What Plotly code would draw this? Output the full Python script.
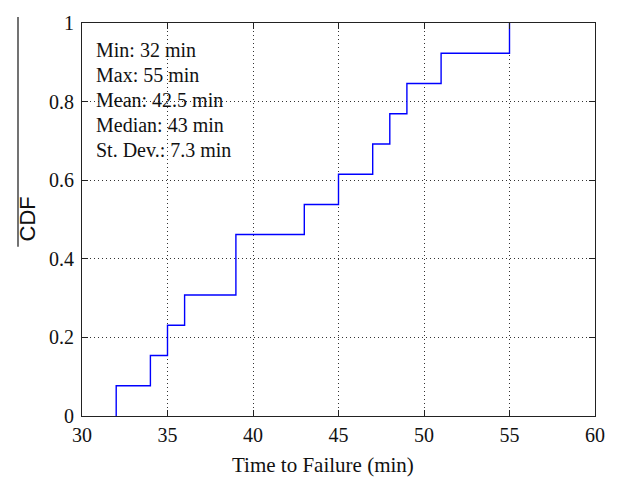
import plotly.graph_objects as go

# Empirical CDF of time to failure: step locations (min) and cumulative fractions
step_times = [32, 32, 34, 35, 36, 39, 43, 45, 47, 48, 49, 51, 55]
cdf_levels = [0.0, 0.077, 0.154, 0.231, 0.308, 0.462, 0.538, 0.615, 0.692, 0.769, 0.846, 0.923, 1.0]

stats_lines = ["Min: 32 min", "Max: 55 min", "Mean: 42.5 min", "Median: 43 min", "St. Dev.: 7.3 min"]

x_ticks = [30, 35, 40, 45, 50, 55, 60]
y_ticks = [0, 0.2, 0.4, 0.6, 0.8, 1]

W, H = 617, 478
L, R, T, B = 82, 18, 19, 62
pw, ph = W - L - R, H - T - B

def px_x(p):
    return (p - L) / pw

def px_y(p):
    return (H - B - p) / ph

serif = "Liberation Serif"

fig = go.Figure()
fig.add_trace(go.Scatter(
    x=step_times, y=cdf_levels, mode="lines", line_shape="hv",
    line=dict(color="#0000ff", width=1.4), showlegend=False, hoverinfo="skip",
))

axis_common = dict(
    showline=True, linecolor="#222222", linewidth=1.2, mirror="ticks",
    ticks="inside", ticklen=6, tickcolor="#222222", tickwidth=1,
    showgrid=True, gridcolor="#333333", griddash="1px,3px", gridwidth=1,
    zeroline=False, tickfont=dict(family=serif, size=20, color="#111111"),
)

fig.update_xaxes(range=[30, 60], tickvals=x_ticks, ticklabelstandoff=1, **axis_common)
fig.update_yaxes(range=[0, 1], tickvals=y_ticks, ticklabelstandoff=3, **axis_common)

annotations = []
line_centers = [45.5, 70.5, 96, 121.5, 146.5]
for txt, yc in zip(stats_lines, line_centers):
    annotations.append(dict(
        text=txt, xref="paper", yref="paper", x=px_x(94), y=px_y(yc + 1),
        xanchor="left", yanchor="middle", showarrow=False,
        font=dict(family=serif, size=20, color="#111111"),
    ))

annotations.append(dict(
    text="Time to Failure (min)", xref="paper", yref="paper",
    x=px_x(325), y=px_y(465), xanchor="center", yanchor="middle", showarrow=False,
    font=dict(family=serif, size=21, color="#111111"),
))
annotations.append(dict(
    text="CDF", xref="paper", yref="paper", textangle=-90,
    x=px_x(27), y=px_y(217), xanchor="center", yanchor="middle", showarrow=False,
    font=dict(family="Liberation Sans", size=22, color="#111111"),
))

fig.update_layout(
    width=W, height=H,
    margin=dict(l=L, r=R, t=T, b=B, pad=0),
    paper_bgcolor="white", plot_bgcolor="white",
    font=dict(family=serif, color="#111111"),
    annotations=annotations,
    shapes=[dict(
        type="line", xref="paper", yref="paper",
        x0=px_x(17.5), x1=px_x(17.5), y0=px_y(13), y1=px_y(245),
        line=dict(color="#444444", width=1.5),
    )],
)

fig.write_html("out.html")
